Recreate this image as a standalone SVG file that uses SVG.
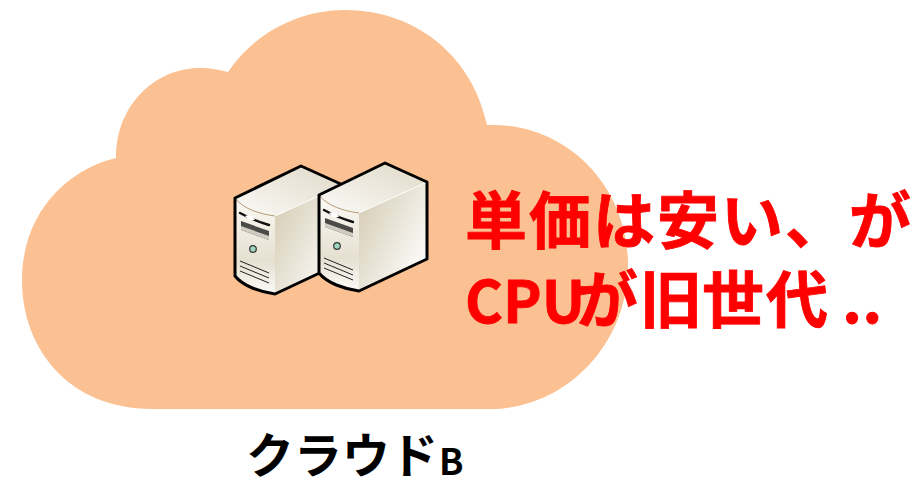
<svg xmlns="http://www.w3.org/2000/svg" width="920" height="479" viewBox="0 0 920 479">
<style>
.o{stroke:#000;stroke-width:3;stroke-linejoin:round;fill:none}
.l{stroke:#222;stroke-width:1;fill:none}
.d{stroke:#111;stroke-width:2.4;stroke-linecap:round;fill:none}
.r{font-family:"Noto Sans CJK JP","Liberation Sans",sans-serif;font-weight:700;font-size:62px;fill:#f00;stroke:#f00;stroke-width:.8}
.k{font-family:"Noto Sans CJK JP","Liberation Sans",sans-serif;font-weight:700;font-size:48px;fill:#000}
</style>
<defs>
<linearGradient id="top" x1="0" y1="1" x2="1" y2="0"><stop offset="0" stop-color="#fbfaf7"/><stop offset="1" stop-color="#e0d9c8"/></linearGradient>
<linearGradient id="side" x1="0" y1="0" x2="1" y2="0.6"><stop offset="0" stop-color="#f3f0e8"/><stop offset=".35" stop-color="#d3c9b0"/><stop offset="1" stop-color="#f8f7f3"/></linearGradient>
<linearGradient id="front" x1="0" y1="0" x2="0" y2="1"><stop offset="0" stop-color="#fbfaf6"/><stop offset=".65" stop-color="#e6e0d1"/><stop offset="1" stop-color="#fbfaf7"/></linearGradient>
<g id="srv">
<path d="M0 32L66 0L108 19V96L40 128C25 126 8 120 0 110Z" fill="url(#side)"/>
<path d="M0 32L66 0L108 19L40 50C25 48 8 43 0 32Z" fill="url(#top)"/>
<path d="M0 32C8 43 25 48 40 50V128C25 126 8 120 0 110Z" fill="url(#front)"/>
<path d="M0 32C8 43 25 48 40 50" stroke="#b89b78" stroke-width="1" fill="none"/>
<path d="M40 50L108 19" stroke="#fff" stroke-width="1" fill="none"/>
<path d="M5 47C14 52 24 56 34 59" class="d"/>
<path d="M6 55L34 65V74L6 64Z" fill="#4a4a48"/>
<path d="M6 60L34 70V74L6 64Z" fill="#cfcbc0"/>
<path d="M10 50C14 48 18 50 20 54L14 54Z" fill="#fff"/>
<circle cx="18" cy="83" r="3.3" fill="#9fd6c0" stroke="#333" stroke-width="1.2"/>
<path d="M5 95L34 107M5 100L34 112M5 105L34 117" class="l"/>
<path class="o" d="M0 32L66 0L108 19V96L40 128C25 126 8 120 0 110Z"/>
</g>
</defs>
<rect width="920" height="479" fill="#fff"/>
<g id="cloud">
<path fill="#fbc192" d="M152 409C70 409 22 350 22 280C22 215 65 170 116 158C116 105 155 68 200 68C210 68 220 70 228 72C255 32 300 10 345 10C415 10 472 55 487 125C565 122 628 185 628 265C628 345 565 409 490 409Z"/>
</g>
<g id="server-1"><use href="#srv" x="235" y="166"/></g>
<g id="server-2"><use href="#srv" x="319" y="163"/></g>
<g id="label-red">
<text class="r" y="244" x="465" letter-spacing="2">単価は安い、が</text>
<text class="r" y="323"><tspan x="465" font-size="58" y="323">CPU</tspan><tspan x="576">が</tspan><tspan x="640">旧</tspan><tspan x="702">世</tspan><tspan x="766">代 </tspan><tspan x="842">..</tspan></text>
</g>
<g id="label-cloud"><text class="k" x="246" y="473">クラウド<tspan x="439" y="475" font-size="36">B</tspan></text></g>
</svg>
